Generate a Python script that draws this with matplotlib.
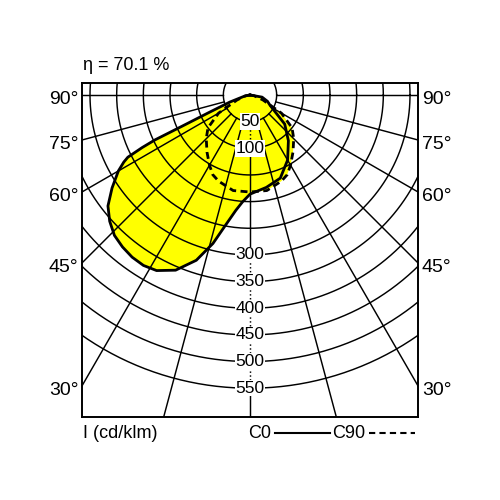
import matplotlib
matplotlib.use("Agg")
import matplotlib.pyplot as plt
import numpy as np
from matplotlib.lines import Line2D

plt.rcParams['font.family'] = ['Liberation Sans Narrow', 'Liberation Sans', 'DejaVu Sans']

# C0-C180 plane: gamma in degrees (positive = left half), intensity in cd/klm
c0_angles = [-90, -80, -70, -63, -50, -40, -30, -20, -10, 0, 4, 7, 11, 14, 18, 23, 28, 32, 36,
             40, 44, 48, 52, 56, 60, 62, 63, 64, 64.7, 65.3, 66.8, 70.7, 79, 90]
c0_values = [0, 23, 35, 42, 85, 112, 141, 166, 176, 186, 201, 218, 252, 287, 326, 357, 373, 377,
             376, 372, 366, 354, 338, 312, 285, 268, 257, 225, 197, 141, 86, 40, 10, 0]
# C90-C270 plane (symmetric)
c90_angles = [0, 10, 20, 25, 30, 37, 45, 52, 60, 69, 80, 90]
c90_values = [182, 182, 172, 165, 152, 134, 116, 100, 68, 26, 8, 0]

ring_values = list(range(50, 600, 50))
ring_labels = [50, 100, 300, 350, 400, 450, 500, 550]
ray_angles = [15, 30, 45, 60, 75, 90]
edge_labels = [90, 75, 60, 45, 30]
efficiency = "70.1"

XMAX = 315.0
YMIN, YMAX = -604.0, 22.5
YELLOW = '#ffff00'


def to_xy(angles, values):
    a = np.radians(np.asarray(angles, dtype=float))
    r = np.asarray(values, dtype=float)
    return -r * np.sin(a), -r * np.cos(a)


fig = plt.figure(figsize=(5, 5), dpi=100)
ax = fig.add_axes([82 / 500, 83 / 500, 336 / 500, 334 / 500])
ax.set_xlim(-XMAX, XMAX)
ax.set_ylim(YMIN, YMAX)
ax.set_xticks([])
ax.set_yticks([])
for s in ax.spines.values():
    s.set_linewidth(1.4)
    s.set_zorder(6)

# filled light distribution
x0, y0 = to_xy(c0_angles, c0_values)
mirror = [-a for a in c90_angles[::-1]] + c90_angles[1:]
mvals = c90_values[::-1] + c90_values[1:]
x90, y90 = to_xy(mirror, mvals)
ax.fill(x0, y0, color=YELLOW, lw=0, zorder=1)
ax.fill(x90, y90, color=YELLOW, lw=0, zorder=1)

# polar grid
t = np.linspace(0, 2 * np.pi, 400)
for r in ring_values:
    ax.plot(r * np.cos(t), r * np.sin(t), color='black', lw=1.05, zorder=2)
for a in ray_angles:
    for sgn in (1, -1):
        ax.plot(*to_xy([sgn * a, sgn * a], [50, 1000]), color='black', lw=1.05, zorder=2)
ax.plot([0, 0], [-50, -100], color='black', lw=1.05, ls=':', zorder=2)
ax.plot([0, 0], [-100, -300], color='black', lw=1.05, zorder=2)
ax.plot([0, 0], [-300, -550], color='black', lw=1.05, ls=':', zorder=2)
ax.plot([0, 0], [-550, YMIN], color='black', lw=1.05, zorder=2)

# curves
ax.plot(x0, y0, color='black', lw=2.0, zorder=3, solid_joinstyle='round')
ax.plot(x90, y90, color='black', lw=2.0, ls=(0, (2.5, 1.6)), zorder=3)

for v in ring_labels:
    ax.text(0, -v, str(v), ha='center', va='center', fontsize=12.5, zorder=5,
            bbox=dict(facecolor='white', edgecolor='none', pad=0.5))

for a in edge_labels:
    y = -XMAX / np.tan(np.radians(a)) if a != 90 else 0.0
    ax.text(-XMAX - 7, y - 8, f"{a}°", ha='right', va='center', fontsize=14, clip_on=False)
    ax.text(XMAX + 7, y - 8, f"{a}°", ha='left', va='center', fontsize=14, clip_on=False)

fig.text(83 / 500, 1 - 66 / 500, f"η = {efficiency} %", ha='left', va='center', fontsize=13)
fig.text(83 / 500, 1 - 434 / 500, "I (cd/klm)", ha='left', va='center', fontsize=13)
fig.text(248 / 500, 1 - 434 / 500, "C0", ha='left', va='center', fontsize=13)
fig.text(332 / 500, 1 - 434 / 500, "C90", ha='left', va='center', fontsize=13)
ly = 1 - 433 / 500
fig.add_artist(Line2D([275 / 500, 330 / 500], [ly, ly], color='black', lw=1.5))
fig.add_artist(Line2D([369 / 500, 415 / 500], [ly, ly], color='black', lw=1.5,
                      ls=(0, (3, 2))))

fig.savefig("out.png", dpi=100)
